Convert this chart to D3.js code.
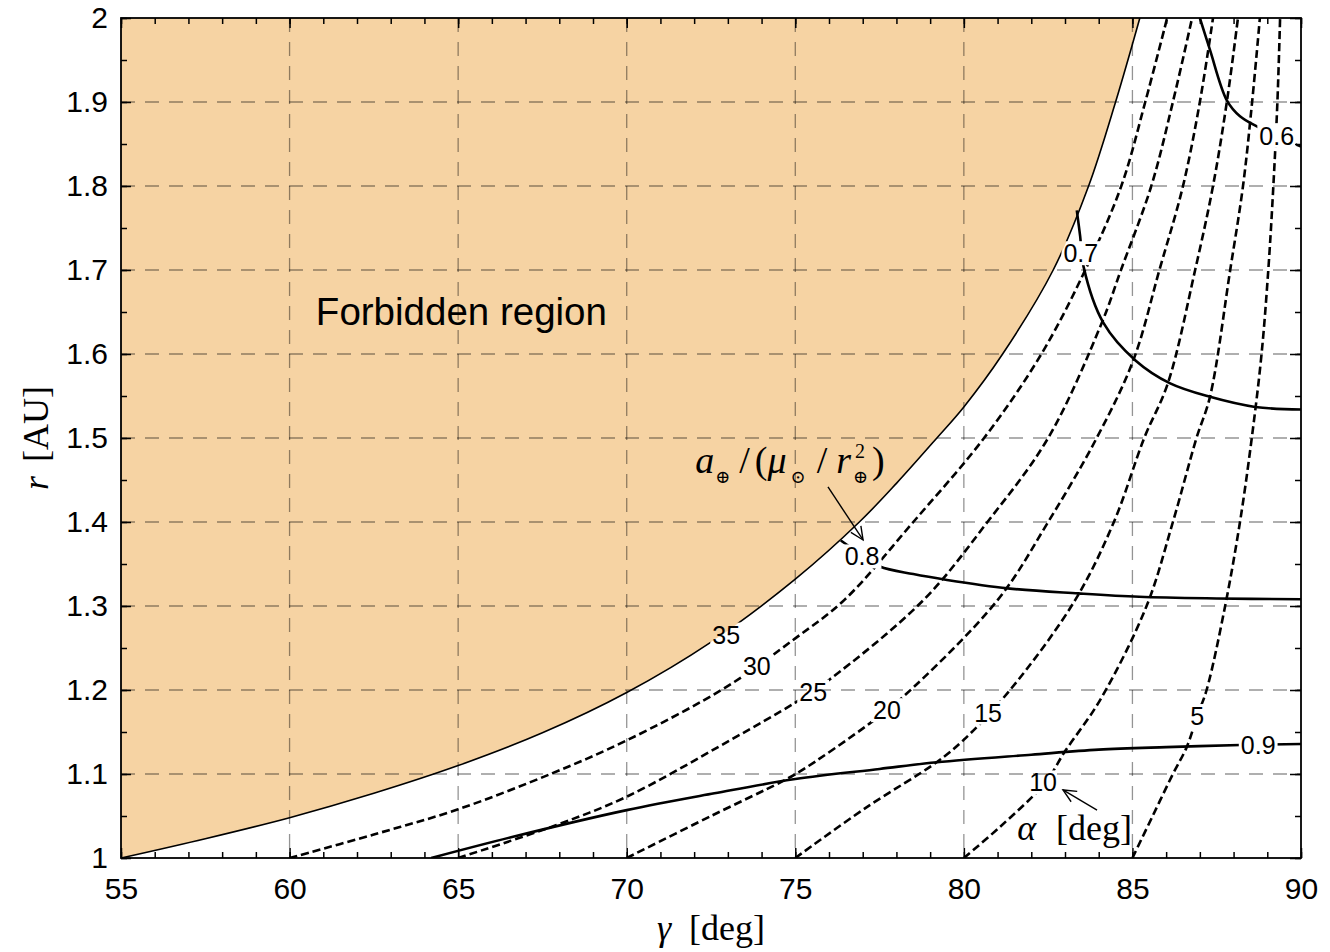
<!DOCTYPE html>
<html>
<head>
<meta charset="utf-8">
<script src="https://cdn.jsdelivr.net/npm/d3@7"></script>
<style>
  body { margin: 0; background: #fff; }
  text { font-family: "Liberation Sans", Arial, Helvetica, sans-serif; }
  .serif { font-family: "Liberation Serif", "DejaVu Serif", serif; }
</style>
</head>
<body>
<div id="chart"></div>
<script>
// ---- values (gamma in deg, r in AU) ----
const gammaTicks = [55, 60, 65, 70, 75, 80, 85, 90];
const rTicks = [1, 1.1, 1.2, 1.3, 1.4, 1.5, 1.6, 1.7, 1.8, 1.9, 2];
const rTickLabels = ["1", "1.1", "1.2", "1.3", "1.4", "1.5", "1.6", "1.7", "1.8", "1.9", "2"];

// edge of the forbidden region (alpha = 35 deg)
const boundary = [[55, 1.0], [57.5, 1.023], [60, 1.048], [62.5, 1.077], [65, 1.11], [67.5, 1.149],
  [70, 1.197], [72.5, 1.257], [75, 1.332], [76.9, 1.4], [78, 1.446], [79.2, 1.5], [80, 1.537],
  [81.15, 1.6], [82.65, 1.7], [83.7, 1.8], [84.5, 1.9], [85.22, 2.0]];

// cone angle alpha contours (dashed)
const alphaLevels = [30, 25, 20, 15, 10, 5];
const alpha30 = [[60, 1.0], [62.5, 1.028], [65, 1.058], [67.8, 1.101], [70, 1.14], [72.97, 1.204],
  [75, 1.2615], [76.45, 1.307], [78.5, 1.4], [80.6, 1.5], [82.3, 1.6], [83.6, 1.7], [84.67, 1.8],
  [85.38, 1.9], [86.03, 2.0]];
const alpha25 = [[65, 1.0], [67.9, 1.039], [70, 1.073], [73.06, 1.14], [75, 1.185], [76, 1.212],
  [78.8, 1.307], [80.7, 1.4], [82.5, 1.5], [84.09, 1.637], [84.66, 1.7], [85.56, 1.8], [86.2, 1.9],
  [86.77, 2.0]];
const alpha20 = [[70, 1.0], [72.5, 1.05], [74.6, 1.091], [75.14, 1.103], [77.2, 1.16], [78.2, 1.192],
  [81.0, 1.307], [82.5, 1.4], [83.94, 1.5], [85.03, 1.593], [85.8, 1.7], [86.5, 1.8], [87.0, 1.9],
  [87.39, 2.0]];
const alpha15 = [[75, 1.0], [77.1, 1.06], [79.19, 1.114], [79.98, 1.14], [81.37, 1.2], [83.3, 1.307],
  [84.45, 1.4], [85.35, 1.5], [86.05, 1.565], [86.86, 1.7], [87.39, 1.8], [87.8, 1.9], [88.13, 2.0]];
const alpha10 = [[80, 1.0], [81.07, 1.037], [82.4, 1.089], [83.0, 1.127], [84.04, 1.188], [85.42, 1.3],
  [86.2, 1.4], [86.9, 1.5], [87.3, 1.549], [87.9, 1.7], [88.28, 1.8], [88.55, 1.9], [88.78, 2.0]];
const alpha5 = [[85, 1.0], [85.6, 1.05], [86.2, 1.1], [86.61, 1.132], [86.92, 1.169], [87.2, 1.2],
  [87.75, 1.3], [88.19, 1.4], [88.54, 1.5], [88.83, 1.6], [89.03, 1.7], [89.18, 1.8], [89.3, 1.9],
  [89.38, 2.0]];

// characteristic acceleration contours a/(mu/r^2) (solid)
const accel09 = [[64.2, 1.0], [66.6, 1.025], [70, 1.057], [72.6, 1.077], [75, 1.094], [77.5, 1.106],
  [79.2, 1.114], [82, 1.123], [84, 1.129], [86, 1.132], [88.2, 1.1345], [90, 1.1357]];
const accel08 = [[76.35, 1.378], [77.0, 1.36], [77.51, 1.347], [78.5, 1.338], [79.5, 1.331],
  [81.3, 1.321], [83.4, 1.315], [85.2, 1.311], [87.5, 1.309], [90, 1.308]];
const accel07 = [[83.35, 1.771], [83.45, 1.74], [83.55, 1.704], [84.14, 1.637], [85.1, 1.592],
  [86.12, 1.565], [87.3, 1.549], [88.64, 1.537], [90, 1.534]];
const accel06 = [[87.0, 2.0], [87.3, 1.962], [87.8, 1.902], [88.19, 1.883], [88.69, 1.871],
  [89.28, 1.86], [89.87, 1.849], [90, 1.847]];

// inline contour labels [text, gamma, r]
const alphaLabels = [["35", 72.95, 1.266], ["30", 73.86, 1.229], ["25", 75.53, 1.198], ["20", 77.72, 1.176],
  ["15", 80.72, 1.173], ["10", 82.35, 1.09], ["5", 86.92, 1.169]];
const accelLabels = [["0.9", 88.73, 1.1345], ["0.8", 76.98, 1.359], ["0.7", 83.47, 1.72], ["0.6", 89.28, 1.86]];

// ---- layout ----
const margin = { top: 18, right: 29, bottom: 94, left: 121 },
  width = 1330 - margin.left - margin.right,
  height = 952 - margin.top - margin.bottom;

const x = d3.scaleLinear().domain([55, 90]).range([0, width]);
const y = d3.scaleLinear().domain([1, 2]).range([height, 0]);

const svg = d3.select("#chart").append("svg")
  .attr("width", 1330).attr("height", 952);
const defs = svg.append("defs");
const g = svg.append("g").attr("transform", "translate(" + margin.left + "," + margin.top + ")");

defs.append("clipPath").attr("id", "plotClip")
  .append("rect").attr("width", width).attr("height", height);

const mask = defs.append("mask").attr("id", "labelGaps")
  .attr("maskUnits", "userSpaceOnUse")
  .attr("x", -50).attr("y", -50).attr("width", width + 100).attr("height", height + 100);
mask.append("rect").attr("x", -50).attr("y", -50)
  .attr("width", width + 100).attr("height", height + 100).attr("fill", "white");

const marker = defs.append("marker").attr("id", "vhead")
  .attr("markerUnits", "userSpaceOnUse")
  .attr("markerWidth", 16).attr("markerHeight", 16)
  .attr("refX", 14).attr("refY", 7).attr("orient", "auto");
marker.append("path").attr("d", "M1,1 L14,7 L1,13")
  .attr("fill", "none").attr("stroke", "#000").attr("stroke-width", 1.4);

const line = d3.line()
  .x(d => x(d[0])).y(d => y(d[1]))
  .curve(d3.curveCatmullRom.alpha(0.5));

// forbidden region fill (between the left edge and the boundary)
const area = d3.area()
  .y(d => y(d[1]))
  .x0(x(55)).x1(d => x(d[0]))
  .curve(d3.curveCatmullRom.alpha(0.5));

const plot = g.append("g").attr("clip-path", "url(#plotClip)");
plot.append("path").datum(boundary)
  .attr("d", area).attr("fill", "#f6d3a3").attr("stroke", "none");

// grid
const grid = plot.append("g")
  .attr("stroke", "#000").attr("stroke-opacity", 0.42)
  .attr("stroke-width", 1.3).attr("stroke-dasharray", "14,10");
grid.selectAll(".vg").data(gammaTicks.slice(1, -1)).enter().append("line")
  .attr("x1", d => x(d)).attr("x2", d => x(d)).attr("y1", 0).attr("y2", height);
grid.selectAll(".hg").data(rTicks.slice(1, -1)).enter().append("line")
  .attr("y1", d => y(d)).attr("y2", d => y(d)).attr("x1", 0).attr("x2", width);

// labels first, so their boxes can cut the lines
const labelG = g.append("g");
const allLabels = alphaLabels.concat(accelLabels);
labelG.selectAll("text").data(allLabels).enter().append("text")
  .attr("x", d => x(d[1])).attr("y", d => y(d[2]))
  .attr("dy", "0.36em")
  .attr("text-anchor", "middle")
  .attr("font-size", 25)
  .text(d => d[0])
  .each(function () {
    const b = this.getBBox();
    mask.append("rect")
      .attr("x", b.x - 2).attr("y", b.y + 2)
      .attr("width", b.width + 4).attr("height", b.height - 4)
      .attr("fill", "black");
  });

const lines = plot.append("g").attr("mask", "url(#labelGaps)").attr("fill", "none");

lines.append("path").datum(boundary)
  .attr("d", line).attr("stroke", "#000").attr("stroke-width", 1.6);

const alphaSeries = [alpha30, alpha25, alpha20, alpha15, alpha10, alpha5];
lines.selectAll(".alpha").data(alphaSeries).enter().append("path")
  .attr("class", "alpha")
  .attr("d", line)
  .attr("stroke", "#000").attr("stroke-width", 2.6)
  .attr("stroke-dasharray", "8,4");

const accelSeries = [accel09, accel08, accel07, accel06];
lines.selectAll(".accel").data(accelSeries).enter().append("path")
  .attr("class", "accel")
  .attr("d", line)
  .attr("stroke", "#000").attr("stroke-width", 2.6);

labelG.raise();

// axes with inward ticks on all four sides
function styleAxis(sel) {
  sel.select(".domain").remove();
  sel.selectAll("line").attr("stroke", "#000").attr("stroke-width", 1.5);
  sel.selectAll("text").attr("font-size", 30).attr("fill", "#000");
}
const xMinor = d3.range(55, 91, 1);
const rMinor = d3.range(1, 2.001, 0.05);

g.append("g").attr("transform", "translate(0," + height + ")")
  .call(d3.axisBottom(x).tickValues(xMinor).tickSize(-6).tickFormat(""))
  .call(styleAxis);
g.append("g").attr("transform", "translate(0," + height + ")")
  .call(d3.axisBottom(x).tickValues(gammaTicks).tickSize(-10).tickPadding(20).tickFormat(d3.format("d")))
  .call(styleAxis);
g.append("g")
  .call(d3.axisTop(x).tickValues(xMinor).tickSize(-6).tickFormat(""))
  .call(styleAxis);
g.append("g")
  .call(d3.axisTop(x).tickValues(gammaTicks).tickSize(-10).tickFormat(""))
  .call(styleAxis);
g.append("g")
  .call(d3.axisLeft(y).tickValues(rMinor).tickSize(-6).tickFormat(""))
  .call(styleAxis);
g.append("g")
  .call(d3.axisLeft(y).tickValues(rTicks).tickSize(-10).tickPadding(13)
    .tickFormat((d, i) => rTickLabels[i]))
  .call(styleAxis);
g.append("g").attr("transform", "translate(" + width + ",0)")
  .call(d3.axisRight(y).tickValues(rMinor).tickSize(-6).tickFormat(""))
  .call(styleAxis);
g.append("g").attr("transform", "translate(" + width + ",0)")
  .call(d3.axisRight(y).tickValues(rTicks).tickSize(-11).tickFormat(""))
  .call(styleAxis);

g.append("rect").attr("width", width).attr("height", height)
  .attr("fill", "none").attr("stroke", "#000").attr("stroke-width", 1.8);

// annotations
g.append("text").attr("x", x(60.78)).attr("y", y(1.6345))
  .attr("font-size", 38.5).text("Forbidden region");

const aLab = g.append("text").attr("class", "serif")
  .attr("x", x(72.03)).attr("y", y(1.458)).attr("font-size", 38);
aLab.append("tspan").attr("font-style", "italic").text("a");
aLab.append("tspan").attr("font-size", 18).attr("dy", 10).attr("dx", 1).text("\u2295");
aLab.append("tspan").attr("dy", -10).attr("dx", 9).text("/");
aLab.append("tspan").attr("dx", 5).text("(");
aLab.append("tspan").attr("font-style", "italic").text("\u03bc");
aLab.append("tspan").attr("font-size", 18).attr("dy", 10).attr("dx", 4).text("\u2299");
aLab.append("tspan").attr("dy", -10).attr("dx", 11).text("/");
aLab.append("tspan").attr("font-style", "italic").attr("dx", 9).text("r");
aLab.append("tspan").attr("font-size", 20).attr("dy", -15).attr("dx", 4).text("2");
aLab.append("tspan").attr("font-size", 18).attr("dy", 25).attr("dx", -12).text("\u2295");
aLab.append("tspan").attr("dy", -10).attr("dx", 4).text(")");

g.append("line")
  .attr("x1", x(75.97)).attr("y1", y(1.4417))
  .attr("x2", x(77.01)).attr("y2", y(1.3786))
  .attr("stroke", "#000").attr("stroke-width", 1.4)
  .attr("marker-end", "url(#vhead)");

const alLab = g.append("text").attr("class", "serif")
  .attr("x", x(81.58)).attr("y", y(1.0214)).attr("font-size", 36);
alLab.append("tspan").attr("font-style", "italic").text("\u03b1");
alLab.append("tspan").attr("dx", 20).text("[deg]");

g.append("line")
  .attr("x1", x(83.95)).attr("y1", y(1.0571))
  .attr("x2", x(82.94)).attr("y2", y(1.081))
  .attr("stroke", "#000").attr("stroke-width", 1.4)
  .attr("marker-end", "url(#vhead)");

// axis titles
const xt = g.append("text").attr("class", "serif")
  .attr("x", width / 2).attr("y", height + 82)
  .attr("text-anchor", "middle").attr("font-size", 36);
xt.append("tspan").attr("font-style", "italic").text("\u03b3");
xt.append("tspan").attr("dx", 18).text("[deg]");

const yt = g.append("text").attr("class", "serif")
  .attr("transform", "translate(" + (48 - margin.left) + "," + y(1.5) + ") rotate(-90)")
  .attr("text-anchor", "middle").attr("font-size", 36);
yt.append("tspan").attr("font-style", "italic").text("r");
yt.append("tspan").attr("dx", 14).text("[AU]");
</script>
</body>
</html>
